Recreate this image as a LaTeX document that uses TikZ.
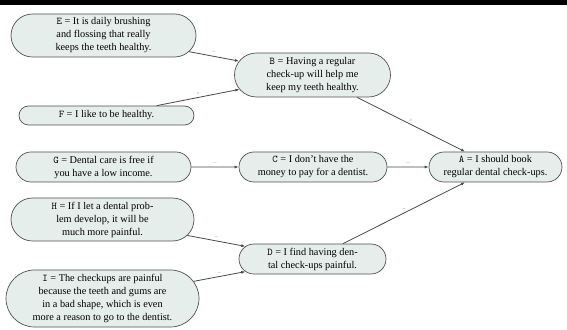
\documentclass[tikz,border=0pt]{standalone}
\usepackage{fontspec}
\setmainfont{Liberation Serif}
\usetikzlibrary{shapes.misc,arrows.meta}
\definecolor{nodefill}{HTML}{E6EEEC}
\definecolor{nodeline}{HTML}{505050}
\definecolor{edgecol}{HTML}{484848}
\definecolor{labcol}{HTML}{909090}
\tikzset{
  claim/.style={rounded rectangle, draw=nodeline, fill=nodefill, line width=0.7pt,
    align=center, inner sep=1pt, font=\fontsize{10.3}{13}\selectfont},
  rel/.style={draw=edgecol, line width=0.8pt, -{Latex[length=4pt,width=3pt]}},
  lab/.style={font=\fontsize{6}{6}\selectfont, text=labcol, above=2pt, midway, inner sep=0pt}
}
\begin{document}
\begin{tikzpicture}[x=1pt,y=1pt]
\useasboundingbox (0,0) rectangle (567,329);
\fill[black] (0,324) rectangle (567,329);
\node[claim, minimum width=187pt, minimum height=43pt] (E) at (103.5,293.5) {\texttt{E} = It is daily brushing\\and flossing that really\\keeps the teeth healthy.};
\node[claim, minimum width=177pt, minimum height=19pt] (F) at (106.5,213.5) {\texttt{F} = I like to be healthy.};
\node[claim, minimum width=158pt, minimum height=44pt] (B) at (312.5,254) {\texttt{B} = Having a regular\\check-up will help me\\keep my teeth healthy.};
\node[claim, minimum width=177pt, minimum height=30pt] (G) at (103.5,162) {\texttt{G} = Dental care is free if\\you have a low income.};
\node[claim, minimum width=150pt, minimum height=30pt] (C) at (313,162) {\texttt{C} = I don't have the\\money to pay for a dentist.};
\node[claim, minimum width=135pt, minimum height=30pt] (A) at (495.5,162) {\texttt{A} = I should book\\regular dental check-ups.};
\node[claim, minimum width=185pt, minimum height=43pt] (H) at (102.5,109.5) {\texttt{H} = If I let a dental prob-\\lem develop, it will be\\much more painful.};
\node[claim, minimum width=195pt, minimum height=57pt] (I) at (102.5,30.5) {\texttt{I} = The checkups are painful\\because the teeth and gums are\\in a bad shape, which is even\\more a reason to go to the dentist.};
\node[claim, minimum width=149pt, minimum height=30pt] (D) at (312.5,70) {\texttt{D} = I find having den-\\tal check-ups painful.};
\draw[rel] (E) -- node[lab]{--} (B);
\draw[rel] (F) -- node[lab]{+} (B);
\draw[rel] (B) -- node[lab]{+} (A);
\draw[rel] (G) -- node[lab]{--} (C);
\draw[rel] (C) -- node[lab]{--} (A);
\draw[rel] (D) -- node[lab]{--} (A);
\draw[rel] (H) -- node[lab]{--} (D);
\draw[rel] (I) -- node[lab]{--} (D);
\end{tikzpicture}
\end{document}
